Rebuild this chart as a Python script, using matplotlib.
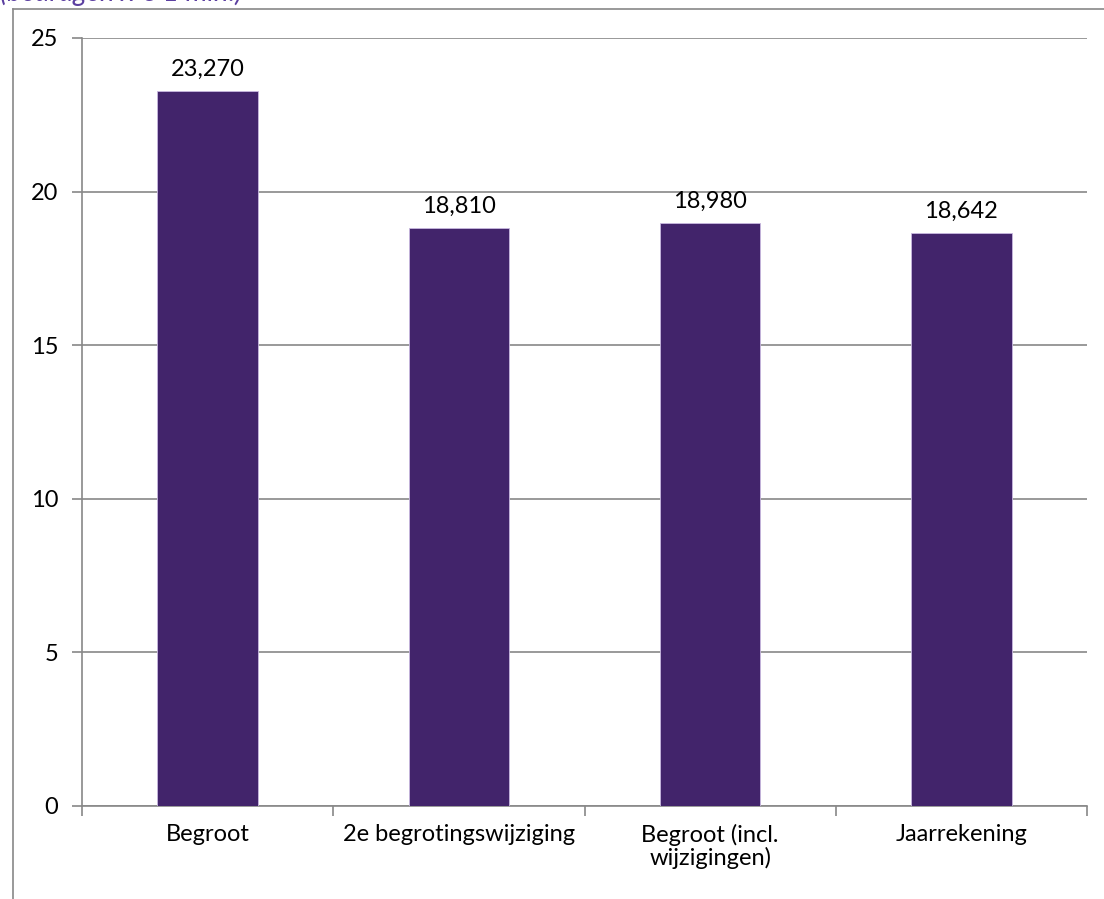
import matplotlib.pyplot as plt
from matplotlib.lines import Line2D

categories = ['Begroot', '2e begrotingswijziging', 'Begroot (incl.\nwijzigingen)', 'Jaarrekening']
values = [23.270, 18.810, 18.980, 18.642]
labels = ['23,270', '18,810', '18,980', '18,642']
yticks = [0, 5, 10, 15, 20, 25]

plt.rcParams['font.family'] = ['Lato', 'DejaVu Sans']
fs = 17

W, H = 1104, 899
fig = plt.figure(figsize=(W / 100, H / 100), dpi=100)
ax = fig.add_axes([82 / W, 1 - 806 / H, (1087 - 82) / W, (806 - 38) / H])

x = range(len(categories))
ax.bar(x, values, width=0.4, color='#42246B', edgecolor='#C8B8E0', linewidth=0.6, zorder=3)
for xi, v, lab in zip(x, values, labels):
    ax.annotate(lab, (xi, v), xytext=(0, 8), textcoords='offset points',
                ha='center', va='bottom', fontsize=fs)

ax.set_xlim(-0.5, len(categories) - 0.5)
ax.set_ylim(0, 25)
ax.set_yticks(yticks)
ax.set_xticks([i - 0.5 for i in range(len(categories) + 1)], minor=False)
ax.set_xticklabels([])
ax.set_xticks(list(x), minor=True)
ax.set_xticklabels(categories, minor=True, fontsize=fs, linespacing=1.05)
ax.tick_params(axis='x', which='major', direction='out', length=7, color='#888888', width=1.2)
ax.tick_params(axis='x', which='minor', length=0, pad=13)
ax.tick_params(axis='y', direction='out', length=7, color='#888888', width=1.2, labelsize=fs, pad=10)
ax.grid(axis='y', color='#888888', linewidth=1.2, zorder=0)
for s in ['top', 'right']:
    ax.spines[s].set_visible(False)
for s in ['left', 'bottom']:
    ax.spines[s].set_color('#888888')
    ax.spines[s].set_linewidth(1.2)

# outer chart-area border (cropped)
fig.add_artist(Line2D([13 / W, 13 / W], [0, 1 - 9 / H], color='#888888', linewidth=1.2))
fig.add_artist(Line2D([13 / W, 1], [1 - 9 / H, 1 - 9 / H], color='#888888', linewidth=1.2))
fig.text(0, 1 - 1 / H, '(bedragen x € 1 mln.)', color='#5B3FA0', style='italic',
         fontsize=20, ha='left', va='baseline')

fig.savefig('out.png', dpi=100)
